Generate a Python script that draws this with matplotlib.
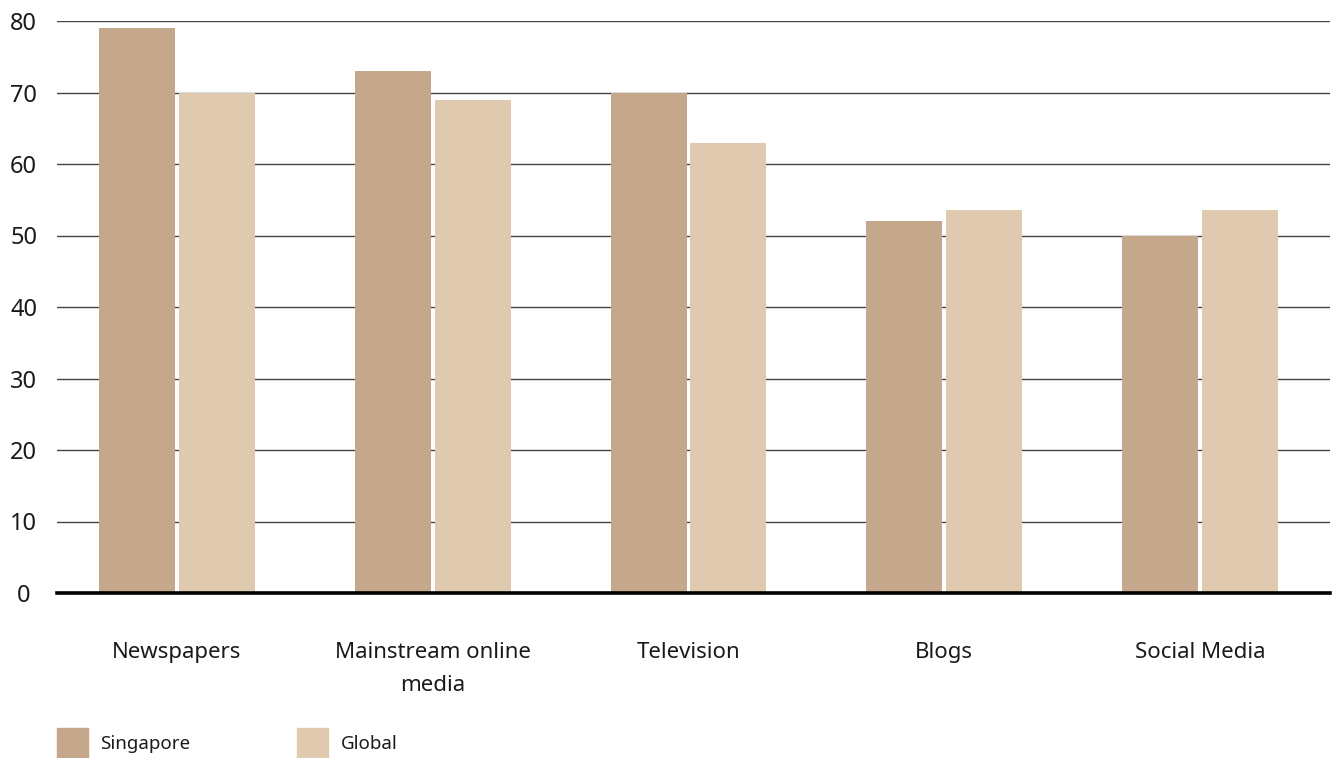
import numpy as np
import matplotlib
matplotlib.use("Agg")
import matplotlib.pyplot as plt
from matplotlib.patches import Patch

categories = ["Newspapers", "Mainstream online\nmedia", "Television", "Blogs", "Social Media"]
singapore = [79, 73, 70, 52, 50]
global_ = [70, 69, 63, 53.5, 53.5]
yticks = [0, 10, 20, 30, 40, 50, 60, 70, 80]

C_SG = "#c5a78c"
C_GL = "#dfcab0"

plt.rcParams["font.family"] = ["Noto Sans", "DejaVu Sans"]

fig = plt.figure(figsize=(13.34, 7.58), dpi=100)
ax = fig.add_axes([57 / 1334, 1 - 593 / 758, (1330 - 57) / 1334, (593 - 21) / 758])

x = np.arange(len(categories))
w = 0.297
off = 0.156
ax.bar(x - off, singapore, w, color=C_SG, zorder=3)
ax.bar(x + off, global_, w, color=C_GL, zorder=3)

ax.set_ylim(0, 80)
ax.set_xlim(-0.469, 4.508)
ax.set_yticks(yticks)
ax.grid(axis="y", color="#444444", lw=1, zorder=1)
ax.axhline(0, color="black", lw=2.6, zorder=4, clip_on=False)
for s in ax.spines.values():
    s.set_visible(False)

ax.set_xticks(x)
ax.set_xticklabels(categories, fontsize=16, linespacing=1.75, color="#1a1a1a")
ax.tick_params(axis="x", length=0, pad=35)
ax.tick_params(axis="y", length=0, pad=24, labelsize=17, labelcolor="#1a1a1a")
for t in ax.get_yticklabels():
    t.set_horizontalalignment("center")

# legend squares ~30px: legend box height = fs*(hh - 0.35*(hh-0.7))
handles = [Patch(color=C_SG, label="Singapore"), Patch(color=C_GL, label="Global")]
fig.legend(handles=handles, loc="lower left", bbox_to_anchor=(57 / 1334, 0.0),
           ncol=2, frameon=False, fontsize=13.5, borderpad=0, borderaxespad=0,
           handlelength=1.66, handleheight=2.08, handletextpad=0.65,
           columnspacing=5.7, labelcolor="#1a1a1a")

fig.savefig("out.png", dpi=100)
